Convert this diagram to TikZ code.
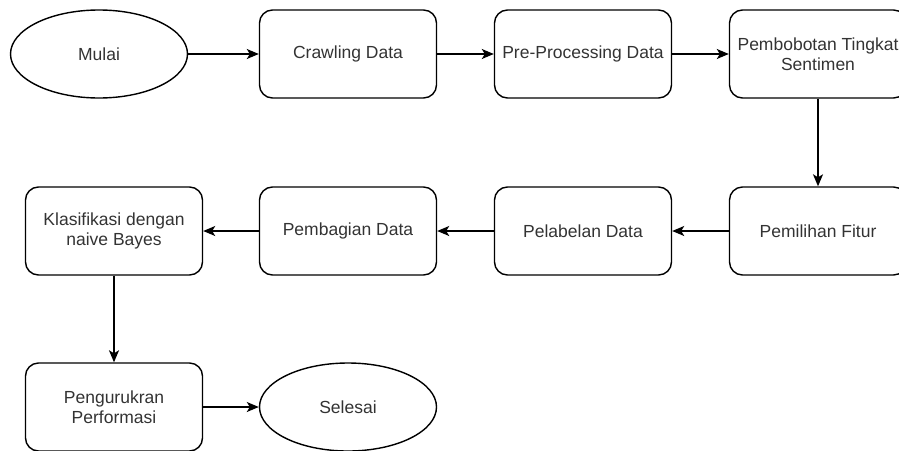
\documentclass[tikz,border=0pt]{standalone}
\usepackage{fontspec}
\setmainfont{Liberation Sans}
\usetikzlibrary{shapes.geometric,arrows.meta}

\tikzset{
  basenode/.style={draw, line width=1.4pt, minimum width=177pt, minimum height=88pt,
    inner sep=1pt, align=center, text=black!80, font=\fontsize{17.5}{20.5}\selectfont},
  procbox/.style={basenode, rounded corners=13pt},
  termnode/.style={basenode, ellipse},
  flow/.style={-{Stealth[length=12pt,width=10pt,inset=3pt]}, line width=1.4pt}
}

\begin{document}
\begin{tikzpicture}[x=1pt,y=-1pt]
        \useasboundingbox (0,0) rectangle (899,450);
        \clip (0,0) rectangle (899,450);

        % First row
        \node[termnode] (mulai) at (99,54) {Mulai};
        \node[procbox] (crawl) at (348,54) {Crawling Data};
        \node[procbox] (prepro) at (583,54) {Pre-Processing Data};
        \node[procbox] (bobot) at (818,54) {Pembobotan Tingkat\\Sentimen};

        % Second row (right to left)
        \node[procbox] (fitur) at (818,231) {Pemilihan Fitur};
        \node[procbox] (label) at (583,231) {Pelabelan Data};
        \node[procbox] (bagi) at (348,231) {Pembagian Data};
        \node[procbox] (klasif) at (114,231) {Klasifikasi dengan\\naive Bayes};

        % Third row
        \node[procbox] (ukur) at (114,407) {Pengurukran\\Performasi};
        \node[termnode] (selesai) at (348,407) {Selesai};

        % Connectors
        \draw[flow] (mulai) -- (crawl);
        \draw[flow] (crawl) -- (prepro);
        \draw[flow] (prepro) -- (bobot);
        \draw[flow] (bobot) -- (fitur);
        \draw[flow] (fitur) -- (label);
        \draw[flow] (label) -- (bagi);
        \draw[flow] (bagi) -- (klasif);
        \draw[flow] (klasif) -- (ukur);
        \draw[flow] (ukur) -- (selesai);
\end{tikzpicture}
\end{document}
